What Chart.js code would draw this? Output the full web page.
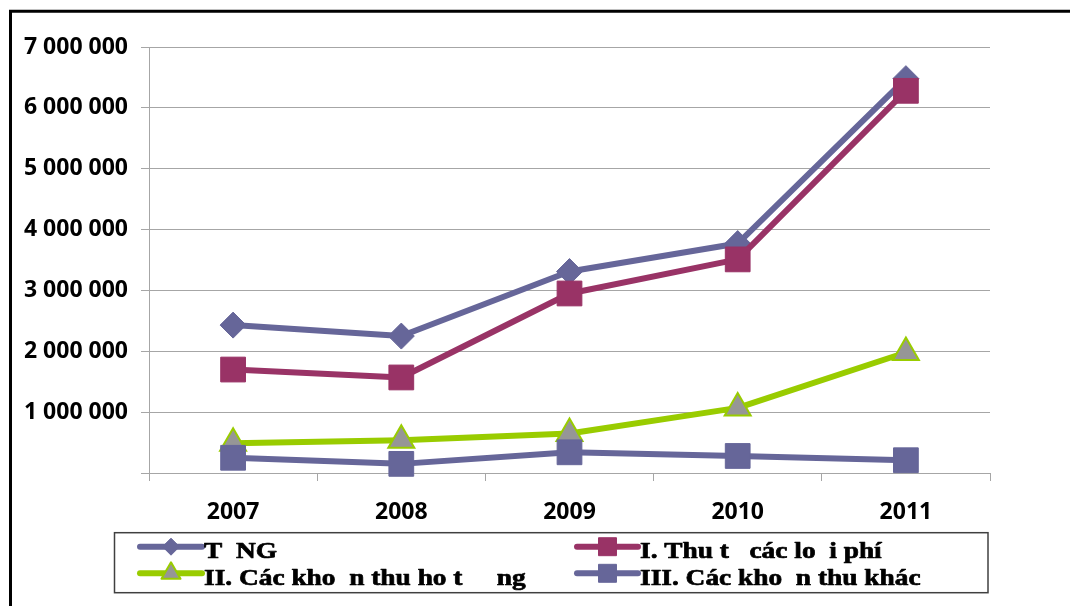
<!DOCTYPE html>
<html>
<head>
<meta charset="utf-8">
<script src="https://cdn.jsdelivr.net/npm/chart.js@4.4.0/dist/chart.umd.min.js"></script>
<style>
  html, body { margin: 0; padding: 0; background: #fff; }
  canvas { display: block; }
</style>
</head>
<body>
<canvas id="chart" width="1070" height="606"></canvas>
<script>
// Categories (years)
const years = ['2007', '2008', '2009', '2010', '2011'];

// Series values
const tongValues      = [2430000, 2250000, 3310000, 3770000, 6480000];
const feeValues       = [1700000, 1570000, 2950000, 3510000, 6280000];
const operatingValues = [490000, 540000, 650000, 1070000, 1980000];
const otherValues     = [250000, 150000, 340000, 280000, 210000];

// Series names as printed in the legend
const seriesNames = [
  'T  NG',
  'I. Thu t   các lo  i phí',
  'II. Các kho  n thu ho t     ng',
  'III. Các kho  n thu khác'
];

// Value axis range
const yMin = 0;
const yMax = 7000000;
const yStep = 1000000;

// "7 000 000" style grouping, zero left blank
const formatTick = v => v === 0 ? '' : String(v).replace(/\B(?=(\d{3})+(?!\d))/g, ' ');

// Legend slots: two columns, two rows inside a framed box
const legendSlots = [
  { x0: 140, x1: 202, y: 546.7, r: 8.5, tx: 204, ty: 558.3 },
  { x0: 577, x1: 638, y: 546.7, r: 12.7, tx: 640, ty: 558.3 },
  { x0: 140, x1: 202, y: 573.3, r: 11, tx: 204, ty: 585 },
  { x0: 577, x1: 638, y: 573.3, r: 12.7, tx: 640, ty: 585 }
];

const frameAndLegend = {
  id: 'frameAndLegend',
  afterDraw(chart) {
    const ctx = chart.ctx;
    ctx.save();
    // outer frame (left and top edges)
    ctx.strokeStyle = '#000';
    ctx.lineWidth = 3;
    ctx.beginPath();
    ctx.moveTo(10.5, 606);
    ctx.lineTo(10.5, 11.3);
    ctx.lineTo(1070, 11.3);
    ctx.stroke();

    // legend box
    ctx.strokeStyle = '#404040';
    ctx.lineWidth = 1.5;
    ctx.strokeRect(114.5, 532.7, 873.5, 60);

    legendSlots.forEach((slot, i) => {
      const ds = chart.data.datasets[i];
      ctx.lineCap = 'round';
      ctx.strokeStyle = ds.borderColor;
      ctx.lineWidth = 6;
      ctx.beginPath();
      ctx.moveTo(slot.x0, slot.y);
      ctx.lineTo(slot.x1, slot.y);
      ctx.stroke();

      ctx.lineCap = 'butt';
      ctx.fillStyle = ds.pointBackgroundColor;
      ctx.strokeStyle = ds.pointBorderColor;
      ctx.lineWidth = ds.pointBorderWidth;
      Chart.helpers.drawPoint(ctx, {
        pointStyle: ds.pointStyle,
        radius: slot.r,
        rotation: 0,
        borderWidth: ds.pointBorderWidth
      }, (slot.x0 + slot.x1) / 2, slot.y);

      ctx.fillStyle = '#000';
      ctx.strokeStyle = '#000';
      ctx.lineWidth = 0.7;
      ctx.lineJoin = 'round';
      ctx.font = 'bold 24px "Liberation Serif", "Times New Roman", serif';
      ctx.textAlign = 'left';
      ctx.textBaseline = 'alphabetic';
      ctx.save();
      ctx.translate(slot.tx, slot.ty);
      ctx.scale(1.14, 1);
      ctx.fillText(ds.label, 0, 0);
      ctx.strokeText(ds.label, 0, 0);
      ctx.restore();
    });
    ctx.restore();
  }
};

const axisFont = { family: '"Open Sans", sans-serif', weight: 'bold', size: 23 };
const gridGray = '#a6a6a6';

new Chart(document.getElementById('chart'), {
  type: 'line',
  data: {
    labels: years,
    datasets: [
      {
        label: seriesNames[0],
        data: tongValues,
        borderColor: '#666699',
        backgroundColor: '#666699',
        borderWidth: 6,
        borderJoinStyle: 'round',
        pointStyle: 'rectRot',
        pointRadius: 13,
        pointBackgroundColor: '#666699',
        pointBorderColor: '#666699',
        pointBorderWidth: 1,
        order: 4
      },
      {
        label: seriesNames[1],
        data: feeValues,
        borderColor: '#993366',
        backgroundColor: '#993366',
        borderWidth: 6,
        borderJoinStyle: 'round',
        pointStyle: 'rect',
        pointRadius: 17.5,
        pointBackgroundColor: '#993366',
        pointBorderColor: '#993366',
        pointBorderWidth: 1,
        order: 3
      },
      {
        label: seriesNames[2],
        data: operatingValues,
        borderColor: '#99CC00',
        backgroundColor: '#969696',
        borderWidth: 6,
        borderJoinStyle: 'round',
        pointStyle: 'triangle',
        pointRadius: 15,
        pointBackgroundColor: '#969696',
        pointBorderColor: '#99CC00',
        pointBorderWidth: 2,
        order: 2
      },
      {
        label: seriesNames[3],
        data: otherValues,
        borderColor: '#666699',
        backgroundColor: '#666699',
        borderWidth: 6,
        borderJoinStyle: 'round',
        pointStyle: 'rect',
        pointRadius: 17.5,
        pointBackgroundColor: '#666699',
        pointBorderColor: '#666699',
        pointBorderWidth: 1,
        order: 1
      }
    ]
  },
  options: {
    responsive: false,
    animation: false,
    clip: false,
    layout: { padding: { top: 47, right: 80, bottom: 73, left: 0 } },
    plugins: {
      legend: { display: false },
      tooltip: { enabled: false }
    },
    scales: {
      x: {
        offset: true,
        grid: {
          display: true,
          drawOnChartArea: false,
          drawTicks: true,
          tickLength: 8,
          offset: true,
          color: gridGray,
          lineWidth: 1
        },
        border: { display: true, color: gridGray, width: 1 },
        ticks: { font: axisFont, color: '#000', padding: 18, maxRotation: 0, autoSkip: false },
        afterFit(scale) { scale.height = 60; }
      },
      y: {
        min: yMin,
        max: yMax,
        grid: { color: gridGray, tickLength: 8, lineWidth: 1 },
        border: { display: true, color: gridGray, width: 1 },
        ticks: { stepSize: yStep, callback: formatTick, font: axisFont, color: '#000', padding: 13 },
        afterFit(scale) { scale.width = 149; }
      }
    }
  },
  plugins: [frameAndLegend]
});
</script>
</body>
</html>
